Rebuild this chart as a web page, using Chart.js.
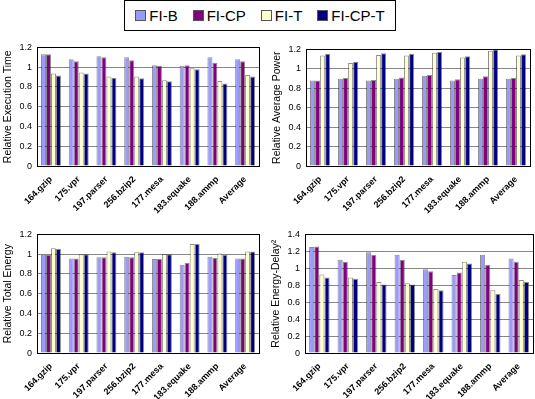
<!DOCTYPE html>
<html>
<head>
<meta charset="utf-8">
<script src="https://cdn.jsdelivr.net/npm/chart.js@4"></script>
<style>
body{margin:0;background:#fff;font-family:"Liberation Sans",Arial,sans-serif;}
#wrap{position:relative;width:535px;height:399px;overflow:hidden;}
.box{position:absolute;}
#legend{position:absolute;left:124px;top:0;width:272px;height:31px;border:1px solid #000;box-sizing:border-box;
  display:flex;align-items:center;justify-content:center;gap:15px;font-size:15px;}
#legend span.sw{display:inline-block;width:9px;height:9px;border:1px solid #555;margin-right:3px;vertical-align:0px;}
</style>
</head>
<body>
<div id="wrap">
  <div id="legend"></div>
  <div class="box" style="left:0;top:37px;width:264px;height:179px"><canvas id="c1"></canvas></div>
  <div class="box" style="left:271px;top:39px;width:264px;height:177px"><canvas id="c2"></canvas></div>
  <div class="box" style="left:0;top:224px;width:264px;height:179px"><canvas id="c3"></canvas></div>
  <div class="box" style="left:270px;top:224px;width:268px;height:179px"><canvas id="c4"></canvas></div>
</div>
<script>
const benchmarks = ["164.gzip","175.vpr","197.parser","256.bzip2","177.mesa","183.equake","188.ammp","Average"];
const seriesNames = ["FI-B","FI-CP","FI-T","FI-CP-T"];
const seriesColors = ["#9999FF","#800080","#FFFFCC","#000080"];

// relative execution time
const timeB   = [1.13,1.08,1.11,1.10,1.02,1.015,1.10,1.08];
const timeCP  = [1.13,1.06,1.10,1.07,1.015,1.02,1.045,1.06];
const timeT   = [0.935,0.945,0.905,0.905,0.868,0.99,0.86,0.92];
const timeCPT = [0.915,0.935,0.893,0.888,0.858,0.98,0.836,0.905];

// relative average power
const powerB   = [0.88,0.898,0.88,0.898,0.93,0.88,0.898,0.898];
const powerCP  = [0.88,0.905,0.886,0.91,0.937,0.892,0.924,0.905];
const powerT   = [1.136,1.06,1.142,1.136,1.166,1.117,1.187,1.136];
const powerCPT = [1.155,1.072,1.16,1.155,1.174,1.13,1.2,1.149];

// relative total energy
const energyB   = [0.995,0.956,0.969,0.975,0.95,0.892,0.975,0.956];
const energyCP  = [0.995,0.956,0.969,0.969,0.95,0.911,0.962,0.956];
const energyT   = [1.059,1.0,1.027,1.02,1.0,1.104,1.008,1.027];
const energyCPT = [1.052,1.0,1.02,1.02,1.0,1.104,0.995,1.027];

// relative energy-delay^2
const ed2B   = [1.25,1.10,1.19,1.16,0.99,0.92,1.16,1.115];
const ed2CP  = [1.258,1.078,1.16,1.10,0.966,0.951,1.04,1.078];
const ed2T   = [0.928,0.891,0.838,0.824,0.756,1.078,0.741,0.861];
const ed2CPT = [0.891,0.876,0.809,0.809,0.741,1.056,0.696,0.838];

const legend = document.getElementById("legend");
seriesNames.forEach(function(n, i){
    const it = document.createElement("div");
    it.innerHTML = '<span class="sw" style="background:' + seriesColors[i] + '"></span>' + n;
    legend.appendChild(it);
});

const plotBorder = {
    id: "plotBorder",
    afterDraw(chart){
        const a = chart.chartArea, ctx = chart.ctx;
        ctx.save();
        ctx.strokeStyle = "#000";
        ctx.lineWidth = 1;
        ctx.strokeRect(Math.round(a.left)+0.5, Math.round(a.top)+0.5, Math.round(a.right-a.left), Math.round(a.bottom-a.top));
        ctx.restore();
    }
};

function makeChart(id, title, data, yMax, pad){
    new Chart(document.getElementById(id), {
        type: "bar",
        data: {
            labels: benchmarks,
            datasets: data.map(function(vals, i){
                return {
                    label: seriesNames[i],
                    data: vals,
                    backgroundColor: seriesColors[i],
                    borderColor: "rgba(0,0,0,0.45)",
                    borderWidth: 1,
                    barPercentage: 1,
                    categoryPercentage: 0.72
                };
            })
        },
        options: {
            responsive: true,
            maintainAspectRatio: false,
            animation: false,
            layout: { padding: pad },
            plugins: { legend: { display: false }, tooltip: { enabled: false } },
            scales: {
                x: {
                    grid: { display: false },
                    border: { color: "#000" },
                    ticks: {
                        color: "#000", maxRotation: 45, minRotation: 45, autoSkip: false,
                        font: { family: "Liberation Sans", size: 9, weight: "bold" }, padding: 0
                    }
                },
                y: {
                    min: 0, max: yMax,
                    grid: { color: "#888", drawTicks: false },
                    border: { color: "#000" },
                    ticks: {
                        stepSize: 0.2, color: "#000", padding: 5,
                        font: { family: "Liberation Sans", size: 9 },
                        callback: function(v){ return Math.round(v*10)/10; }
                    },
                    title: {
                        display: true, text: title, color: "#000", padding: {top: 0, bottom: 0},
                        font: { family: "Liberation Sans", size: 10.5 }
                    }
                }
            }
        },
        plugins: [plotBorder]
    });
}

makeChart("c1", "Relative Execution Time", [timeB, timeCP, timeT, timeCPT], 1.2, {left: 2, right: 5, top: 0, bottom: 0});
makeChart("c2", "Relative Average Power", [powerB, powerCP, powerT, powerCPT], 1.2, {left: 0, right: 5, top: 0, bottom: 0});
makeChart("c3", "Relative Total Energy", [energyB, energyCP, energyT, energyCPT], 1.2, {left: 2, right: 5, top: 0, bottom: 0});
makeChart("c4", "Relative Energy-Delay\u00b2", [ed2B, ed2CP, ed2T, ed2CPT], 1.4, {left: 0, right: 5, top: 0, bottom: 0});
</script>
</body>
</html>
